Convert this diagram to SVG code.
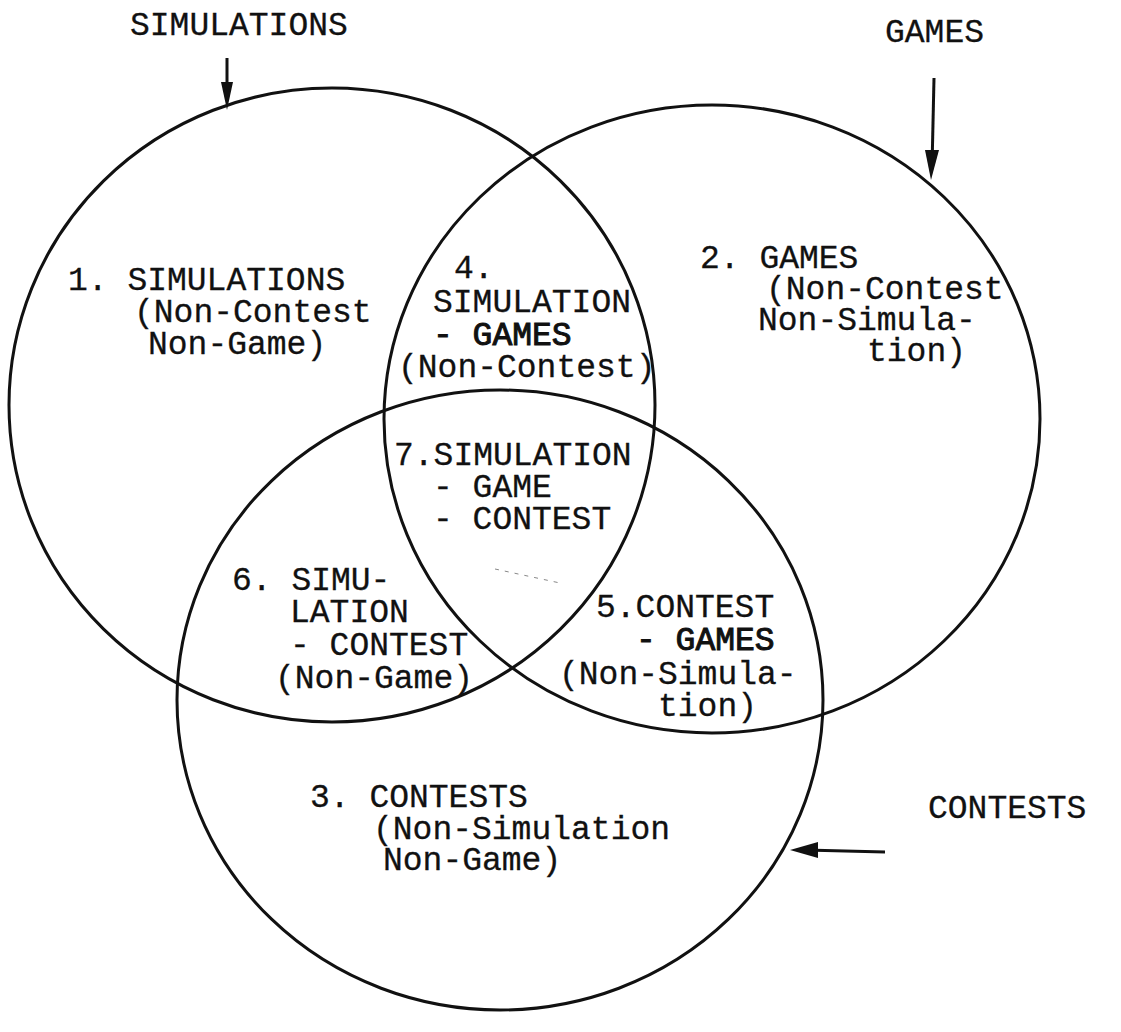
<svg xmlns="http://www.w3.org/2000/svg" width="1121" height="1032" viewBox="0 0 1121 1032">
<defs>
<style>
.c{fill:none;stroke:#111;stroke-width:3}
.t{font-family:"Liberation Mono","Courier New",monospace;font-size:33px;fill:#111;stroke:#111;stroke-width:0.3;white-space:pre}
.b{stroke-width:1}
.a{stroke:#111;stroke-width:3;fill:none}
.h{fill:#111}
</style>
</defs>
<rect width="1121" height="1032" fill="#fff"/>
<g id="circle-simulations"><ellipse class="c" cx="332" cy="405" rx="323" ry="317"/></g>
<g id="circle-games"><ellipse class="c" cx="712" cy="419" rx="328" ry="314"/></g>
<g id="circle-contests"><ellipse class="c" cx="500" cy="700" rx="323" ry="310"/></g>
<g id="connectors">
<path class="a" d="M227,58 L227,100"/>
<path class="h" d="M221,82 L233,82 L227,110 Z"/>
<path class="a" d="M934,78 L932,168"/>
<path class="h" d="M925,150 L939,150 L931,180 Z"/>
<path class="a" d="M885,852 L805,850"/>
<path class="h" d="M818,842 L818,858 L790,850 Z"/>
<path d="M495,569 L560,583" stroke="#888" stroke-width="1" stroke-dasharray="4,6" fill="none"/>
</g>
<g id="label-simulations"><text class="t" x="130" y="35">SIMULATIONS</text></g>
<g id="label-games"><text class="t" x="885" y="42">GAMES</text></g>
<g id="label-contests"><text class="t" x="928" y="818">CONTESTS</text></g>
<g id="region-1"><text class="t" x="68" y="290">1. SIMULATIONS</text><text class="t" x="134" y="322">(Non-Contest</text><text class="t" x="148" y="354">Non-Game)</text></g>
<g id="region-4"><text class="t" x="454" y="278">4.</text><text class="t" x="433" y="312">SIMULATION</text><text class="t b" x="433" y="345">- GAMES</text><text class="t" x="398" y="377">(Non-Contest)</text></g>
<g id="region-2"><text class="t" x="700" y="268">2. GAMES</text><text class="t" x="766" y="299">(Non-Contest</text><text class="t" x="758" y="330">Non-Simula-</text><text class="t" x="867" y="361">tion)</text></g>
<g id="region-7"><text class="t" x="394" y="465">7.SIMULATION</text><text class="t" x="433" y="497">- GAME</text><text class="t" x="433" y="529">- CONTEST</text></g>
<g id="region-6"><text class="t" x="232" y="590">6. SIMU-</text><text class="t" x="290" y="622">LATION</text><text class="t" x="290" y="655">- CONTEST</text><text class="t" x="275" y="688">(Non-Game)</text></g>
<g id="region-5"><text class="t" x="596" y="617">5.CONTEST</text><text class="t b" x="636" y="650">- GAMES</text><text class="t" x="559" y="684">(Non-Simula-</text><text class="t" x="658" y="716">tion)</text></g>
<g id="region-3"><text class="t" x="310" y="807">3. CONTESTS</text><text class="t" x="373" y="839">(Non-Simulation</text><text class="t" x="383" y="870">Non-Game)</text></g>
</svg>
